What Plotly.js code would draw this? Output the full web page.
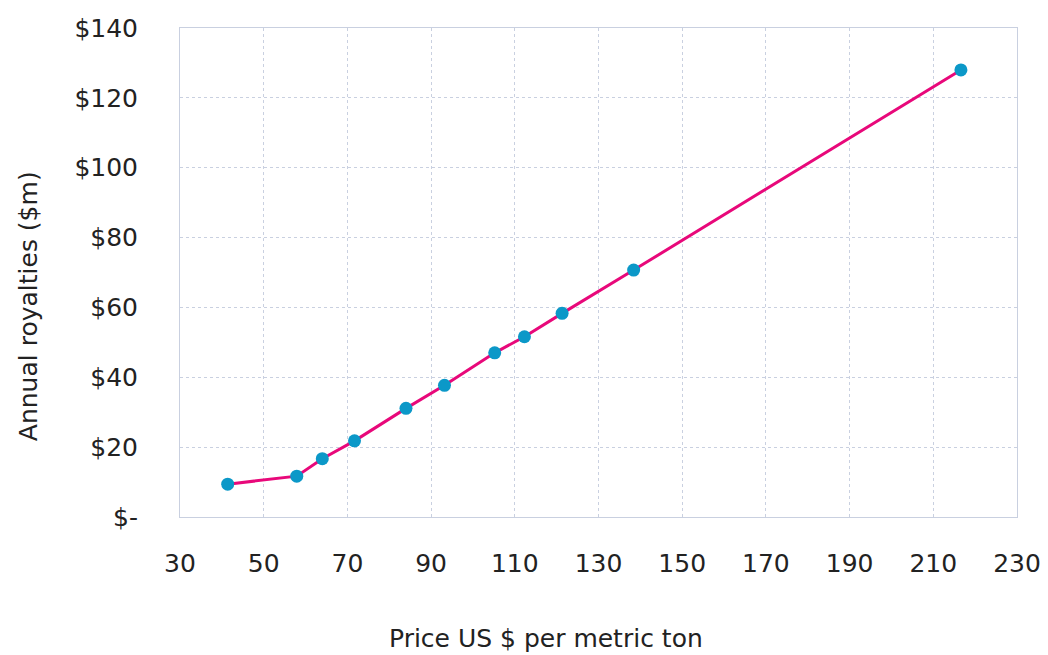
<!DOCTYPE html>
<html>
<head>
<meta charset="utf-8">
<script src="https://cdn.plot.ly/plotly-3.0.1.min.js"></script>
<style>html,body{margin:0;padding:0;background:#fff;}#chart{width:1048px;height:655px;}</style>
</head>
<body>
<div id="chart"></div>
<script>
const prices = [41.4, 57.9, 64.0, 71.7, 84.0, 93.2, 105.2, 112.3, 121.3, 138.4, 216.6];
const royalties = [9.4, 11.7, 16.7, 21.8, 31.1, 37.7, 47.0, 51.6, 58.3, 70.7, 128.0];
const xTicks = [30, 50, 70, 90, 110, 130, 150, 170, 190, 210, 230];
const yTickVals = [0, 20, 40, 60, 80, 100, 120, 140];
const yTickText = ['$-', '$20', '$40', '$60', '$80', '$100', '$120', '$140'];
const xTitle = 'Price US $ per metric ton';
const yTitle = 'Annual royalties ($m)';

const font = 'DejaVu Sans, Verdana, sans-serif';
const gridColor = '#c9d0e0';

Plotly.newPlot('chart', [{
  x: prices, y: royalties, type: 'scatter', mode: 'lines+markers',
  line: {color: '#e8087a', width: 3},
  marker: {color: '#0b98c8', size: 13},
  hoverinfo: 'x+y'
}], {
  width: 1048, height: 655,
  margin: {l: 180, r: 31, t: 28, b: 138},
  paper_bgcolor: '#fff', plot_bgcolor: '#fff',
  showlegend: false,
  font: {family: font, color: '#222', size: 25},
  xaxis: {
    range: [30, 230], tickvals: xTicks, ticktext: xTicks.map(String),
    showgrid: true, gridcolor: gridColor, griddash: 'dot', gridwidth: 1,
    showline: true, linecolor: gridColor, linewidth: 1, mirror: true,
    zeroline: false, ticks: 'outside', ticklen: 24, tickcolor: 'rgba(0,0,0,0)',
    tickfont: {family: font, size: 25, color: '#222'}
  },
  yaxis: {
    range: [0, 140], tickvals: yTickVals, ticktext: yTickText,
    showgrid: true, gridcolor: gridColor, griddash: 'dot', gridwidth: 1,
    showline: true, linecolor: gridColor, linewidth: 1, mirror: true,
    zeroline: false, ticks: 'outside', ticklen: 36, tickcolor: 'rgba(0,0,0,0)',
    tickfont: {family: font, size: 25, color: '#222'}
  },
  annotations: [
    {text: xTitle, xref: 'paper', yref: 'paper', x: (546 - 180) / 837, y: -(638 - 516.7) / 488.7,
     xanchor: 'center', yanchor: 'middle', showarrow: false,
     font: {family: font, size: 25, color: '#222'}},
    {text: yTitle, xref: 'paper', yref: 'paper', x: (28 - 180) / 837, y: (516.7 - 306) / 488.7,
     xanchor: 'center', yanchor: 'middle', textangle: -90, showarrow: false,
     font: {family: font, size: 25, color: '#222'}}
  ]
}, {displayModeBar: false, staticPlot: true});
</script>
</body>
</html>
